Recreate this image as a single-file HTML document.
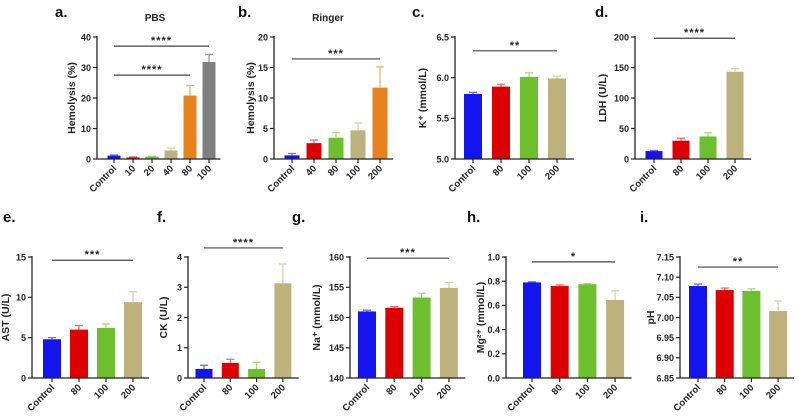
<!DOCTYPE html>
<html><head><meta charset="utf-8">
<style>
html,body{margin:0;padding:0;background:#fff;}
svg{display:block;font-family:"Liberation Sans",Arial,sans-serif;}
</style></head>
<body>
<svg id="fig" width="799" height="416" viewBox="0 0 799 416" xmlns="http://www.w3.org/2000/svg"></svg>
<script>
// ---- data ----
const catsA = ["Control","10","20","40","80","100"];
const valsA = [1.1,0.5,0.8,2.8,20.8,31.8];
const errA  = [0.2,0.2,0.1,0.8,3.3,2.5];
const catsB = ["Control","40","80","100","200"];
const valsB = [0.6,2.6,3.5,4.7,11.7];
const errB  = [0.3,0.5,0.8,1.2,3.4];
const cats4 = ["Control","80","100","200"];
const valsC = [5.80,5.89,6.01,5.99];
const errC  = [0.02,0.03,0.05,0.03];
const valsD = [13,30,37,143];
const errD  = [1,4,6,5];
const valsE = [4.8,6.0,6.2,9.4];
const errE  = [0.2,0.5,0.5,1.3];
const valsF = [0.3,0.5,0.3,3.13];
const errF  = [0.12,0.12,0.22,0.64];
const valsG = [151.0,151.6,153.3,154.9];
const errG  = [0.2,0.2,0.7,0.9];
const valsH = [0.79,0.76,0.775,0.645];
const errH  = [0.005,0.01,0.005,0.075];
const valsI = [7.078,7.068,7.066,7.016];
const errI  = [0.005,0.005,0.005,0.025];
const ticksA = [0,10,20,30,40];
const ticksB = [0,5,10,15,20];
const ticksC = ["5.0","5.5","6.0","6.5"];
const ticksD = [0,50,100,150,200];
const ticksE = [0,5,10,15];
const ticksF = [0,1,2,3,4];
const ticksG = [140,145,150,155,160];
const ticksH = ["0.0","0.2","0.4","0.6","0.8","1.0"];
const ticksI = ["6.85","6.90","6.95","7.00","7.05","7.10","7.15"];
const sigA = [[0,5,"****",37],[0,4,"****",27.5]];
const sigB = [[0,4,"***",16.4]];
const sigC = [[0,3,"**",6.33]];
const sigD = [[0,3,"****",198]];
const sigE = [[0,3,"***",14.6]];
const sigF = [[0,3,"****",4.3]];
const sigG = [[0,3,"***",159.8]];
const sigH = [[0,3,"*",0.96]];
const sigI = [[0,3,"**",7.125]];

const FILL = {blue:"#1414ee",red:"#dc0000",green:"#6ebf2e",tan:"#bdb27c",orange:"#e8821f",gray:"#7f7f7f"};
const ERRC = {blue:"#6b6bf5",red:"#ef6b6b",green:"#a5dc7d",tan:"#d9d1ab",orange:"#f2b070",gray:"#9a9a9a"};
const colA=["blue","red","green","tan","orange","gray"];
const colB=["blue","red","green","tan","orange"];
const col4=["blue","red","green","tan"];

const panels = [
 {id:"a",letter:"a.",lx:55,ly:17,title:"PBS",tx:155,ylab:"Hemolysis (%)",ylx:75,ax:97,y0:159,y1:37,min:0,max:40,ticks:ticksA,cats:catsA,vals:valsA,err:errA,col:colA,x0:114,step:19,bw:13,sig:sigA},
 {id:"b",letter:"b.",lx:238,ly:17,title:"Ringer",tx:328,ylab:"Hemolysis (%)",ylx:254,ax:274,y0:159,y1:37,min:0,max:20,ticks:ticksB,cats:catsB,vals:valsB,err:errB,col:colB,x0:292,step:22,bw:15,sig:sigB},
 {id:"c",letter:"c.",lx:412,ly:17,ylab:"K\u207A (mmol/L)",ylx:426,ax:455,y0:159,y1:37,min:5,max:6.5,ticks:ticksC,cats:cats4,vals:valsC,err:errC,col:col4,x0:473,step:28,bw:18,sig:sigC},
 {id:"d",letter:"d.",lx:595,ly:17,ylab:"LDH (U/L)",ylx:606,ax:635,y0:159,y1:37,min:0,max:200,ticks:ticksD,cats:cats4,vals:valsD,err:errD,col:col4,x0:654,step:27,bw:17,sig:sigD},
 {id:"e",letter:"e.",lx:3,ly:222,ylab:"AST (U/L)",ylx:9,ax:32,y0:378,y1:257,min:0,max:15,ticks:ticksE,cats:cats4,vals:valsE,err:errE,col:col4,x0:52,step:27,bw:18,sig:sigE},
 {id:"f",letter:"f.",lx:157,ly:222,ylab:"CK (U/L)",ylx:167,ax:188,y0:378,y1:257,min:0,max:4,ticks:ticksF,cats:cats4,vals:valsF,err:errF,col:col4,x0:204,step:26.3,bw:17,sig:sigF},
 {id:"g",letter:"g.",lx:292,ly:222,ylab:"Na\u207A (mmol/L)",ylx:320,ax:350,y0:378,y1:257,min:140,max:160,ticks:ticksG,cats:cats4,vals:valsG,err:errG,col:col4,x0:367,step:27.3,bw:18,sig:sigG},
 {id:"h",letter:"h.",lx:467,ly:222,ylab:"Mg\u00B2\u207A (mmol/L)",ylx:484,ax:506,y0:378,y1:257,min:0,max:1,ticks:ticksH,cats:cats4,vals:valsH,err:errH,col:col4,x0:532,step:27.7,bw:18,sig:sigH},
 {id:"i",letter:"i.",lx:640,ly:222,ylab:"pH",ylx:654,ax:680,y0:378,y1:257,min:6.85,max:7.15,ticks:ticksI,cats:cats4,vals:valsI,err:errI,col:col4,x0:698,step:26.7,bw:18,sig:sigI}
];

const NS="http://www.w3.org/2000/svg";
const svg=document.getElementById("fig");
function mk(tag,attrs,parent){const e=document.createElementNS(NS,tag);for(const k in attrs)e.setAttribute(k,attrs[k]);(parent||svg).appendChild(e);return e;}

panels.forEach(p=>{
  const g=mk("g",{});
  
  
  const yS=v=>p.y0-(v-p.min)/(p.max-p.min)*(p.y0-p.y1);
  const xS=i=>p.x0+i*p.step;
  const xEnd=xS(p.cats.length-1)+p.step*0.6;
  const L=mk("text",{x:p.lx,y:p.ly,"font-size":"15","font-weight":"bold",fill:"#111"},g);L.textContent=p.letter;
  
  
  if(p.title){const T=mk("text",{x:p.tx,y:21,"font-size":"10","font-weight":"bold","text-anchor":"middle",fill:"#222"},g);T.textContent=p.title;
    
    }
  p.vals.forEach((v,i)=>{
    const cx=xS(i),top=yS(v),et=yS(v+p.err[i]);
    const el=mk("line",{x1:cx,x2:cx,y1:top,y2:et,stroke:ERRC[p.col[i]],"stroke-width":"1.3"},g);
    
    
    const cap=mk("line",{x1:cx-4,x2:cx+4,y1:et,y2:et,stroke:ERRC[p.col[i]],"stroke-width":"1.3"},g);
    
    
    const b=mk("rect",{x:cx-p.bw/2,y:top,width:p.bw,height:Math.max(0,p.y0-top),fill:FILL[p.col[i]]},g);
    
    
  });
  const ya=mk("line",{x1:p.ax,x2:p.ax,y1:p.y1-1,y2:p.y0,stroke:"#222","stroke-width":"1.3"},g);
  
  
  const xa=mk("line",{x1:p.ax,x2:xEnd,y1:p.y0,y2:p.y0,stroke:"#222","stroke-width":"1.3"},g);
  
  
  p.ticks.forEach(t=>{
    const y=yS(parseFloat(t));
    mk("line",{x1:p.ax-4,x2:p.ax,y1:y,y2:y,stroke:"#222","stroke-width":"1.2"},g);
    const tl=mk("text",{x:p.ax-6,y:y+3.3,"font-size":"9","font-weight":"bold","text-anchor":"end",fill:"#222"},g);
    tl.textContent=t;
    
    
  });
  p.cats.forEach((c,i)=>{
    const x=xS(i);
    mk("line",{x1:x,x2:x,y1:p.y0,y2:p.y0+4,stroke:"#222","stroke-width":"1.2"},g);
    const tl=mk("text",{x:x+3,y:p.y0+10,"font-size":"9.5","font-weight":"bold","text-anchor":"end",fill:"#222",transform:`rotate(-45 ${x+3} ${p.y0+10})`},g);
    tl.textContent=c;
    
    
  });
  const cy=(p.y0+p.y1)/2;
  const yl=mk("text",{x:p.ylx,y:cy,"font-size":"10.5","font-weight":"bold","text-anchor":"middle",fill:"#222",transform:`rotate(-90 ${p.ylx} ${cy})`},g);
  yl.textContent=p.ylab;
  
  
  p.sig.forEach(s=>{
    const y=yS(s[3]);
    const ln=mk("line",{x1:xS(s[0]),x2:xS(s[1]),y1:y,y2:y,stroke:"#444","stroke-width":"1.2"},g);
    
    
    const st=mk("text",{x:(xS(s[0])+xS(s[1]))/2,y:y-2,"font-size":"11","font-weight":"bold","text-anchor":"middle",fill:"#222","letter-spacing":"1"},g);
    st.textContent=s[2];
    
    
  });
});
</script>
</body></html>
